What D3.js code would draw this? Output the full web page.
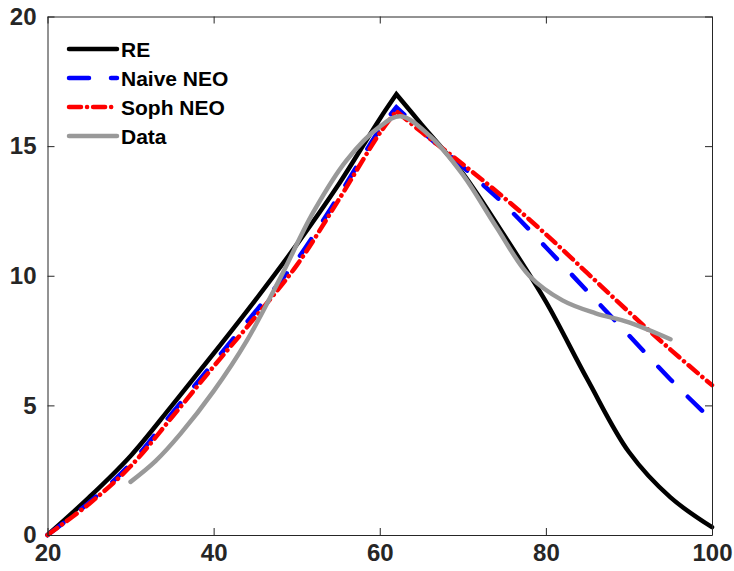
<!DOCTYPE html>
<html>
<head>
<meta charset="utf-8">
<script src="https://cdn.jsdelivr.net/npm/d3@7"></script>
<style>
  html, body { margin: 0; padding: 0; background: #fff; overflow: hidden; }
  svg { display: block; }
  text { font-family: "Liberation Sans", Arial, sans-serif; font-weight: bold; }
</style>
</head>
<body>
<svg id="chart" width="734" height="571"></svg>
<script>
// ---- data ----
const modelX   = [20, 25, 30, 35, 40, 45, 50, 55, 60, 62, 65, 70, 75, 80, 85, 90, 95, 100];
const reVals    = [0, 1.45, 3.05, 5.0, 7.0, 9.05, 11.2, 13.5, 16.05, 17.0, 15.85, 13.95, 11.55, 9.0, 6.0, 3.2, 1.45, 0.3];
const naiveVals = [0, 1.25, 2.75, 4.7, 6.65, 8.6, 10.6, 13.05, 15.65, 16.5, 15.6, 14.2, 12.75, 11.1, 9.4, 7.7, 6.0, 4.42];
const sophVals  = [0, 1.2, 2.65, 4.55, 6.5, 8.4, 10.4, 12.9, 15.5, 16.35, 15.55, 14.3, 13.0, 11.6, 10.1, 8.6, 7.15, 5.78];
const peakIndex = 9; // kink at x = 62
const dataX    = [30, 33, 36, 40, 44, 48, 52, 56, 60, 62.5, 66, 70, 74, 78, 82, 86, 90, 95];
const dataVals = [2.05, 2.85, 3.9, 5.55, 7.5, 9.9, 12.45, 14.45, 15.75, 16.15, 15.4, 13.9, 11.9, 10.0, 9.05, 8.55, 8.2, 7.55];
const xTicks = [20, 40, 60, 80, 100];
const yTicks = [0, 5, 10, 15, 20];
const legendLabels = ["RE", "Naive NEO", "Soph NEO", "Data"];

// ---- layout ----
const svg = d3.select("#chart");
const mLeft = 47.5, mRight = 712, mTop = 16.5, mBottom = 535;
const x = d3.scaleLinear().domain([20, 100]).range([mLeft, mRight]);
const y = d3.scaleLinear().domain([0, 20]).range([mBottom, mTop]);
const axisColor = "#262626";

const series = [
  {name: legendLabels[0], xs: modelX, ys: reVals,    color: "#000000", dash: null,          kink: true},
  {name: legendLabels[1], xs: modelX, ys: naiveVals, color: "#0000ff", dash: "20,22",       kink: true},
  {name: legendLabels[2], xs: modelX, ys: sophVals,  color: "#ff0000", dash: "12,6,0.1,6",  kink: true},
  {name: legendLabels[3], xs: dataX,  ys: dataVals,  color: "#999999", dash: null,          kink: false}
];

const lineGen = d3.line().x(d => x(d[0])).y(d => y(d[1])).curve(d3.curveCatmullRom.alpha(0.5));

function pathFor(s) {
  const pts = s.xs.map((v, i) => [v, s.ys[i]]);
  if (!s.kink) return lineGen(pts);
  const a = lineGen(pts.slice(0, peakIndex + 1));
  const b = lineGen(pts.slice(peakIndex)).replace(/^M/, "L");
  return a + b;
}

const plot = svg.append("g");
series.forEach(s => {
  plot.append("path")
    .attr("d", pathFor(s))
    .attr("fill", "none")
    .attr("stroke", s.color)
    .attr("stroke-width", 4.5)
    .attr("stroke-linecap", "round")
    .attr("stroke-linejoin", "miter")
    .attr("stroke-dasharray", s.dash);
});

// ---- axes (box with inward ticks) ----
const fs = 24;
const gB = svg.append("g").attr("transform", `translate(0,${mBottom})`)
  .call(d3.axisBottom(x).tickValues(xTicks).tickSizeInner(-7).tickSizeOuter(0).tickPadding(9).tickFormat(d3.format("d")));
const gT = svg.append("g").attr("transform", `translate(0,${mTop})`)
  .call(d3.axisTop(x).tickValues(xTicks).tickSizeInner(-7).tickSizeOuter(0).tickFormat(""));
const gL = svg.append("g").attr("transform", `translate(${mLeft},0)`)
  .call(d3.axisLeft(y).tickValues(yTicks).tickSizeInner(-7).tickSizeOuter(0).tickPadding(11).tickFormat(d3.format("d")));
const gR = svg.append("g").attr("transform", `translate(${mRight},0)`)
  .call(d3.axisRight(y).tickValues(yTicks).tickSizeInner(-7).tickSizeOuter(0).tickFormat(""));
[gB, gT, gL, gR].forEach(g => {
  g.select(".domain").attr("stroke", axisColor).attr("stroke-width", 1);
  g.selectAll(".tick line").attr("stroke", axisColor).attr("stroke-width", 1);
  g.selectAll(".tick text").attr("fill", axisColor)
    .style("font-size", fs + "px").style("font-weight", "bold")
    .style("font-family", '"Liberation Sans", Arial, sans-serif');
});

// ---- legend ----
const legX0 = 69, legX1 = 117, legTextX = 121;
const legY = [49, 78, 107, 136];
series.forEach((s, i) => {
  svg.append("line")
    .attr("x1", legX0).attr("x2", legX1)
    .attr("y1", legY[i]).attr("y2", legY[i])
    .attr("stroke", s.color).attr("stroke-width", 4.5)
    .attr("stroke-linecap", "round")
    .attr("stroke-dasharray", s.dash);
  svg.append("text")
    .attr("x", legTextX).attr("y", legY[i])
    .attr("dy", "0.36em")
    .attr("fill", "#000")
    .style("font-size", "21px")
    .text(s.name);
});
</script>
</body>
</html>
